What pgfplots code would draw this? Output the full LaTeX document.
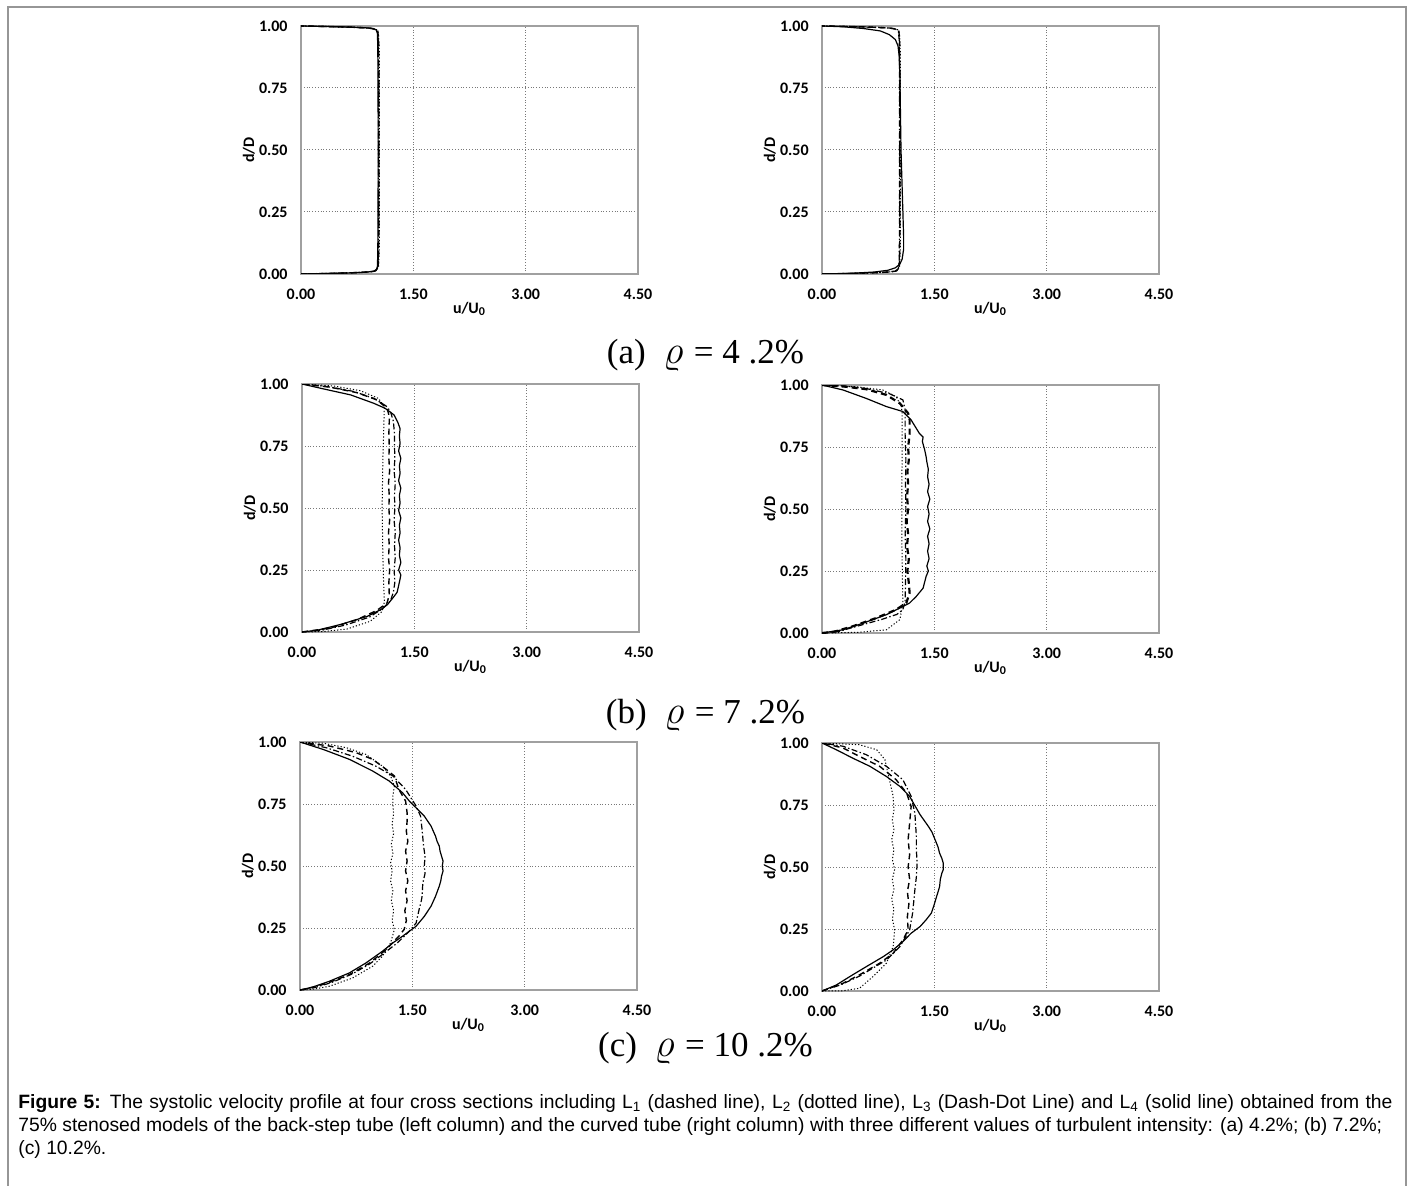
\documentclass[border=0pt]{standalone}
\usepackage{pgfplots}
\pgfplotsset{compat=1.18}
\usepackage{fontspec}
\setmainfont{Liberation Sans}
\newfontfamily\carl{Carlito}
\newfontfamily\tnr{Liberation Serif}
\definecolor{framegray}{RGB}{150,150,150}
\definecolor{axgray}{RGB}{160,160,160}
\definecolor{gridgray}{RGB}{120,120,120}
\newcommand{\rh}{\scalebox{1.15}{$\varrho$}}
\pgfplotsset{
  panel/.style={
    scale only axis, width=168.5pt, height=124pt,
    xmin=0, xmax=4.5, ymin=0, ymax=1,
    xtick={0,1.5,3,4.5}, xticklabels={0.00,1.50,3.00,4.50},
    ytick={0,0.25,0.5,0.75,1}, yticklabels={0.00,0.25,0.50,0.75,1.00},
    tick style={draw=none},
    grid=major, major grid style={densely dotted, gridgray, line width=0.5pt},
    axis line style={axgray, line width=0.7pt},
    ticklabel style={font=\carl\bfseries\fontsize{8}{9.5}\selectfont, inner sep=0pt},
    xticklabel style={anchor=north, yshift=-7.5pt},
    yticklabel style={anchor=east, xshift=-6.5pt},
    xlabel={u/U\textsubscript{0}}, ylabel={d/D},
    label style={font=\carl\bfseries\fontsize{8}{9.5}\selectfont},
    xlabel style={at={(axis description cs:0.5,-0.141)}, anchor=center},
    ylabel style={at={(axis description cs:-0.155,0.5)}, anchor=center},
    anchor=south west,
  },
  Lone/.style={black, line width=0.7pt, dash pattern=on 3pt off 2pt},
  Ltwo/.style={black, line width=0.5pt, dash pattern=on 0.6pt off 1pt},
  Lthree/.style={black, line width=0.6pt, dash pattern=on 3pt off 1.2pt on 0.7pt off 1.2pt},
  Lfour/.style={black, line width=0.6pt},
}
\begin{document}
\begin{tikzpicture}
\useasboundingbox (0,0) rectangle (706.5pt,592.5pt);
\draw[framegray, line width=0.6pt] (4pt,-1pt) -- (4pt,589pt) -- (703pt,589pt) -- (703pt,-1pt);

% ---------- (a) left ----------
\begin{axis}[panel, at={(150.5pt,455.5pt)}]
\addplot[Lfour] coordinates {(0,0)(0.3,0.002)(0.6,0.004)(0.85,0.007)(0.96,0.01)(1.005,0.016)(1.02,0.03)(1.025,0.08)(1.028,0.2)(1.03,0.4)(1.03,0.6)(1.028,0.8)(1.025,0.92)(1.02,0.97)(1.005,0.984)(0.96,0.99)(0.85,0.993)(0.6,0.996)(0.3,0.998)(0,1)};
\addplot[Lone] coordinates {(0,0)(0.35,0.002)(0.7,0.005)(0.9,0.008)(0.99,0.012)(1.025,0.02)(1.035,0.05)(1.04,0.2)(1.04,0.5)(1.04,0.8)(1.035,0.95)(1.025,0.98)(0.99,0.988)(0.9,0.992)(0.7,0.995)(0.35,0.998)(0,1)};
\addplot[Ltwo] coordinates {(0,0)(0.4,0.002)(0.75,0.005)(0.93,0.009)(1.01,0.015)(1.035,0.03)(1.045,0.1)(1.045,0.5)(1.045,0.9)(1.035,0.97)(1.01,0.985)(0.93,0.991)(0.75,0.995)(0.4,0.998)(0,1)};
\addplot[Lthree] coordinates {(0,0)(0.3,0.002)(0.65,0.005)(0.88,0.008)(0.98,0.012)(1.02,0.022)(1.032,0.06)(1.035,0.3)(1.035,0.7)(1.032,0.94)(1.02,0.978)(0.98,0.988)(0.88,0.992)(0.65,0.995)(0.3,0.998)(0,1)};
\end{axis}

% ---------- (a) right ----------
\begin{axis}[panel, at={(411pt,455.5pt)}]
\addplot[Lfour] coordinates {(0,0)(0.4,0.003)(0.7,0.008)(0.88,0.015)(0.98,0.025)(1.04,0.04)(1.07,0.06)(1.09,0.1)(1.09,0.15)(1.085,0.2)(1.075,0.3)(1.065,0.4)(1.055,0.5)(1.05,0.6)(1.045,0.7)(1.04,0.8)(1.03,0.88)(1.015,0.92)(0.98,0.945)(0.9,0.965)(0.78,0.98)(0.55,0.99)(0.28,0.997)(0,1)};
\addplot[Lone] coordinates {(0,0)(0.35,0.002)(0.7,0.005)(0.9,0.008)(0.99,0.012)(1.025,0.02)(1.035,0.05)(1.04,0.2)(1.04,0.5)(1.04,0.8)(1.035,0.95)(1.025,0.98)(0.99,0.988)(0.9,0.992)(0.7,0.995)(0.35,0.998)(0,1)};
\addplot[Ltwo] coordinates {(0,0)(0.4,0.002)(0.75,0.005)(0.93,0.009)(1.01,0.015)(1.035,0.03)(1.045,0.1)(1.045,0.5)(1.045,0.9)(1.035,0.97)(1.01,0.985)(0.93,0.991)(0.75,0.995)(0.4,0.998)(0,1)};
\addplot[Lthree] coordinates {(0,0)(0.3,0.002)(0.65,0.005)(0.88,0.008)(0.98,0.012)(1.02,0.022)(1.032,0.06)(1.035,0.3)(1.035,0.7)(1.032,0.94)(1.02,0.978)(0.98,0.988)(0.88,0.992)(0.65,0.995)(0.3,0.998)(0,1)};
\end{axis}

% ---------- (b) left ----------
\begin{axis}[panel, at={(151pt,276.5pt)}]
\addplot[Lfour] coordinates {(0,0)(0.2,0.007)(0.51,0.03)(0.87,0.063)(1.05,0.09)(1.14,0.11)(1.22,0.14)(1.27,0.16)(1.3,0.2)(1.32,0.23)(1.29,0.25)(1.32,0.28)(1.30,0.31)(1.31,0.34)(1.29,0.37)(1.31,0.4)(1.30,0.43)(1.32,0.46)(1.29,0.49)(1.31,0.52)(1.30,0.55)(1.32,0.58)(1.29,0.61)(1.31,0.64)(1.30,0.67)(1.32,0.70)(1.29,0.73)(1.31,0.76)(1.30,0.79)(1.31,0.82)(1.28,0.845)(1.23,0.875)(1.11,0.902)(0.96,0.922)(0.65,0.956)(0.29,0.98)(0,1)};
\addplot[Lthree] coordinates {(0,0)(0.25,0.006)(0.58,0.028)(0.9,0.06)(1.08,0.095)(1.18,0.125)(1.22,0.16)(1.24,0.2)(1.23,0.25)(1.245,0.3)(1.235,0.35)(1.245,0.4)(1.23,0.45)(1.24,0.5)(1.235,0.55)(1.245,0.6)(1.23,0.65)(1.24,0.7)(1.235,0.75)(1.235,0.8)(1.22,0.85)(1.18,0.89)(1.12,0.912)(0.96,0.942)(0.69,0.97)(0.33,0.99)(0,1)};
\addplot[Lone] coordinates {(0,0)(0.38,0.016)(0.735,0.05)(1.0,0.087)(1.136,0.117)(1.165,0.15)(1.16,0.2)(1.17,0.25)(1.155,0.3)(1.165,0.35)(1.155,0.4)(1.17,0.45)(1.16,0.5)(1.165,0.55)(1.155,0.6)(1.17,0.65)(1.16,0.7)(1.165,0.75)(1.16,0.8)(1.167,0.868)(1.136,0.902)(1.0,0.936)(0.735,0.965)(0.38,0.987)(0,1)};
\addplot[Ltwo] coordinates {(0,0)(0.29,0.002)(0.6,0.012)(0.91,0.043)(1.07,0.083)(1.1,0.12)(1.09,0.2)(1.08,0.3)(1.075,0.4)(1.07,0.5)(1.075,0.6)(1.08,0.7)(1.09,0.8)(1.095,0.86)(1.1,0.909)(1.02,0.942)(0.78,0.973)(0.42,0.992)(0,1)};
\end{axis}

% ---------- (b) right ----------
\begin{axis}[panel, at={(411pt,276pt)}]
\addplot[Lfour] coordinates {(0,0)(0.28,0.013)(0.55,0.04)(0.86,0.074)(1.08,0.107)(1.17,0.121)(1.26,0.148)(1.35,0.181)(1.39,0.228)(1.42,0.25)(1.40,0.27)(1.43,0.30)(1.41,0.33)(1.43,0.36)(1.41,0.39)(1.44,0.42)(1.41,0.45)(1.43,0.48)(1.41,0.51)(1.44,0.54)(1.41,0.57)(1.43,0.60)(1.41,0.63)(1.42,0.66)(1.40,0.69)(1.39,0.711)(1.37,0.74)(1.34,0.772)(1.35,0.79)(1.30,0.805)(1.19,0.859)(1.08,0.893)(0.86,0.913)(0.59,0.946)(0.28,0.98)(0,1)};
\addplot[Lone, line width=1.1pt] coordinates {(0,0)(0.15,0.004)(0.41,0.027)(0.72,0.06)(0.99,0.094)(1.125,0.121)(1.17,0.161)(1.16,0.2)(1.14,0.25)(1.16,0.3)(1.135,0.35)(1.15,0.4)(1.13,0.45)(1.15,0.5)(1.135,0.55)(1.15,0.6)(1.14,0.65)(1.16,0.7)(1.15,0.75)(1.17,0.8)(1.17,0.859)(1.15,0.886)(1.04,0.926)(0.86,0.96)(0.59,0.983)(0.32,0.993)(0,1)};
\addplot[Lthree] coordinates {(0,0)(0.22,0.006)(0.5,0.03)(0.8,0.055)(1.0,0.075)(1.08,0.094)(1.11,0.13)(1.115,0.2)(1.12,0.3)(1.11,0.4)(1.12,0.5)(1.115,0.6)(1.12,0.7)(1.11,0.8)(1.11,0.9)(1.08,0.94)(0.9,0.965)(0.6,0.985)(0.3,0.996)(0,1)};
\addplot[Ltwo] coordinates {(0,0)(0.2,0.001)(0.5,0.003)(0.86,0.013)(1.04,0.054)(1.08,0.121)(1.075,0.2)(1.07,0.3)(1.065,0.4)(1.065,0.5)(1.065,0.6)(1.07,0.7)(1.07,0.8)(1.07,0.886)(1.06,0.913)(0.99,0.953)(0.81,0.98)(0.46,0.993)(0,1)};
\end{axis}

% ---------- (c) left ----------
\begin{axis}[panel, at={(150pt,97.5pt)}]
\addplot[Lfour] coordinates {(0,0)(0.17,0.012)(0.39,0.035)(0.66,0.069)(0.88,0.109)(1.10,0.156)(1.24,0.19)(1.37,0.217)(1.46,0.237)(1.55,0.257)(1.66,0.297)(1.75,0.338)(1.81,0.378)(1.86,0.419)(1.88,0.44)(1.89,0.459)(1.91,0.48)(1.90,0.5)(1.91,0.52)(1.89,0.54)(1.87,0.56)(1.86,0.58)(1.83,0.60)(1.81,0.62)(1.75,0.661)(1.66,0.701)(1.55,0.735)(1.46,0.762)(1.37,0.795)(1.19,0.843)(0.97,0.883)(0.66,0.93)(0.31,0.97)(0,1)};
\addplot[Lthree] coordinates {(0,0)(0.2,0.01)(0.42,0.03)(0.7,0.065)(0.93,0.105)(1.13,0.15)(1.3,0.19)(1.42,0.225)(1.48,0.244)(1.55,0.27)(1.59,0.324)(1.62,0.36)(1.63,0.378)(1.64,0.432)(1.67,0.47)(1.66,0.5)(1.67,0.54)(1.65,0.58)(1.63,0.647)(1.61,0.701)(1.55,0.742)(1.41,0.809)(1.24,0.863)(1.01,0.903)(0.70,0.943)(0.35,0.977)(0,1)};
\addplot[Lone] coordinates {(0,0)(0.08,0.004)(0.35,0.026)(0.66,0.062)(0.93,0.109)(1.15,0.163)(1.32,0.217)(1.39,0.244)(1.42,0.28)(1.40,0.32)(1.43,0.36)(1.41,0.4)(1.44,0.44)(1.41,0.48)(1.43,0.52)(1.41,0.56)(1.44,0.6)(1.42,0.64)(1.43,0.68)(1.43,0.715)(1.41,0.762)(1.32,0.809)(1.26,0.863)(1.15,0.89)(0.97,0.93)(0.75,0.957)(0.39,0.984)(0,1)};
\addplot[Ltwo] coordinates {(0,0)(0.17,0.003)(0.39,0.015)(0.70,0.048)(0.97,0.096)(1.10,0.136)(1.21,0.19)(1.26,0.244)(1.23,0.28)(1.25,0.32)(1.22,0.36)(1.24,0.4)(1.21,0.44)(1.23,0.48)(1.21,0.513)(1.24,0.55)(1.22,0.59)(1.25,0.63)(1.23,0.67)(1.25,0.71)(1.24,0.75)(1.24,0.782)(1.26,0.822)(1.21,0.863)(1.10,0.903)(0.88,0.95)(0.62,0.977)(0.31,0.995)(0,1)};
\end{axis}

% ---------- (c) right ----------
\begin{axis}[panel, at={(411pt,97pt)}]
\addplot[Lfour] coordinates {(0,0)(0.19,0.024)(0.37,0.058)(0.59,0.098)(0.82,0.139)(0.95,0.166)(1.08,0.199)(1.19,0.233)(1.31,0.26)(1.39,0.287)(1.46,0.314)(1.50,0.35)(1.53,0.381)(1.55,0.40)(1.57,0.421)(1.58,0.45)(1.60,0.475)(1.62,0.49)(1.62,0.515)(1.60,0.535)(1.57,0.556)(1.55,0.58)(1.51,0.61)(1.47,0.64)(1.42,0.664)(1.31,0.711)(1.22,0.758)(1.17,0.785)(1.04,0.825)(0.86,0.865)(0.64,0.906)(0.41,0.939)(0.19,0.973)(0,1)};
\addplot[Lone] coordinates {(0,0)(0.28,0.031)(0.50,0.065)(0.77,0.112)(0.95,0.152)(1.08,0.206)(1.15,0.246)(1.14,0.3)(1.16,0.35)(1.14,0.4)(1.17,0.45)(1.15,0.5)(1.17,0.55)(1.15,0.61)(1.17,0.677)(1.19,0.744)(1.13,0.798)(0.99,0.852)(0.77,0.906)(0.50,0.946)(0.28,0.98)(0,1)};
\addplot[Lthree] coordinates {(0,0)(0.25,0.025)(0.5,0.06)(0.86,0.125)(1.04,0.179)(1.17,0.246)(1.21,0.314)(1.24,0.408)(1.26,0.46)(1.27,0.515)(1.26,0.57)(1.26,0.623)(1.24,0.717)(1.19,0.785)(1.08,0.852)(0.86,0.906)(0.59,0.953)(0.28,0.987)(0,1)};
\addplot[Ltwo] coordinates {(0,0)(0.28,0.001)(0.50,0.011)(0.68,0.058)(0.86,0.112)(0.95,0.179)(0.97,0.246)(0.94,0.29)(0.96,0.33)(0.93,0.37)(0.96,0.41)(0.94,0.45)(0.97,0.49)(0.94,0.53)(0.96,0.57)(0.93,0.61)(0.96,0.65)(0.94,0.69)(0.96,0.73)(0.95,0.785)(0.90,0.852)(0.84,0.933)(0.73,0.973)(0.50,0.993)(0,1)};
\end{axis}

% ---------- row titles ----------
\node[anchor=base, font=\tnr\fontsize{17.5}{20}\selectfont, inner sep=0pt] at (352.75pt,410.5pt) {(a)\hspace{0.5em}\rh\hspace{0.3em}=\hspace{0.25em}4 .2\%};
\node[anchor=base, font=\tnr\fontsize{17.5}{20}\selectfont, inner sep=0pt] at (352.75pt,231pt) {(b)\hspace{0.5em}\rh\hspace{0.3em}=\hspace{0.25em}7 .2\%};
\node[anchor=base, font=\tnr\fontsize{17.5}{20}\selectfont, inner sep=0pt] at (352.75pt,64.5pt) {(c)\hspace{0.5em}\rh\hspace{0.3em}=\hspace{0.25em}10 .2\%};

% ---------- caption ----------
\node[anchor=base west, inner sep=0pt, font=\fontsize{9.65}{11.5}\selectfont] at (9pt,38.5pt) {\makebox[687pt][s]{\textbf{Figure 5:} The systolic velocity profile at four cross sections including L\textsubscript{1} (dashed line), L\textsubscript{2} (dotted line), L\textsubscript{3} (Dash-Dot Line) and L\textsubscript{4} (solid line) obtained from the}};
\node[anchor=base west, inner sep=0pt, font=\fontsize{9.65}{11.5}\selectfont] at (9pt,27pt) {75\% stenosed models of the back-step tube (left column) and the curved tube (right column) with three different values of turbulent intensity: (a) 4.2\%; (b) 7.2\%;};
\node[anchor=base west, inner sep=0pt, font=\fontsize{9.65}{11.5}\selectfont] at (9pt,15.5pt) {(c) 10.2\%.};
\end{tikzpicture}
\end{document}
